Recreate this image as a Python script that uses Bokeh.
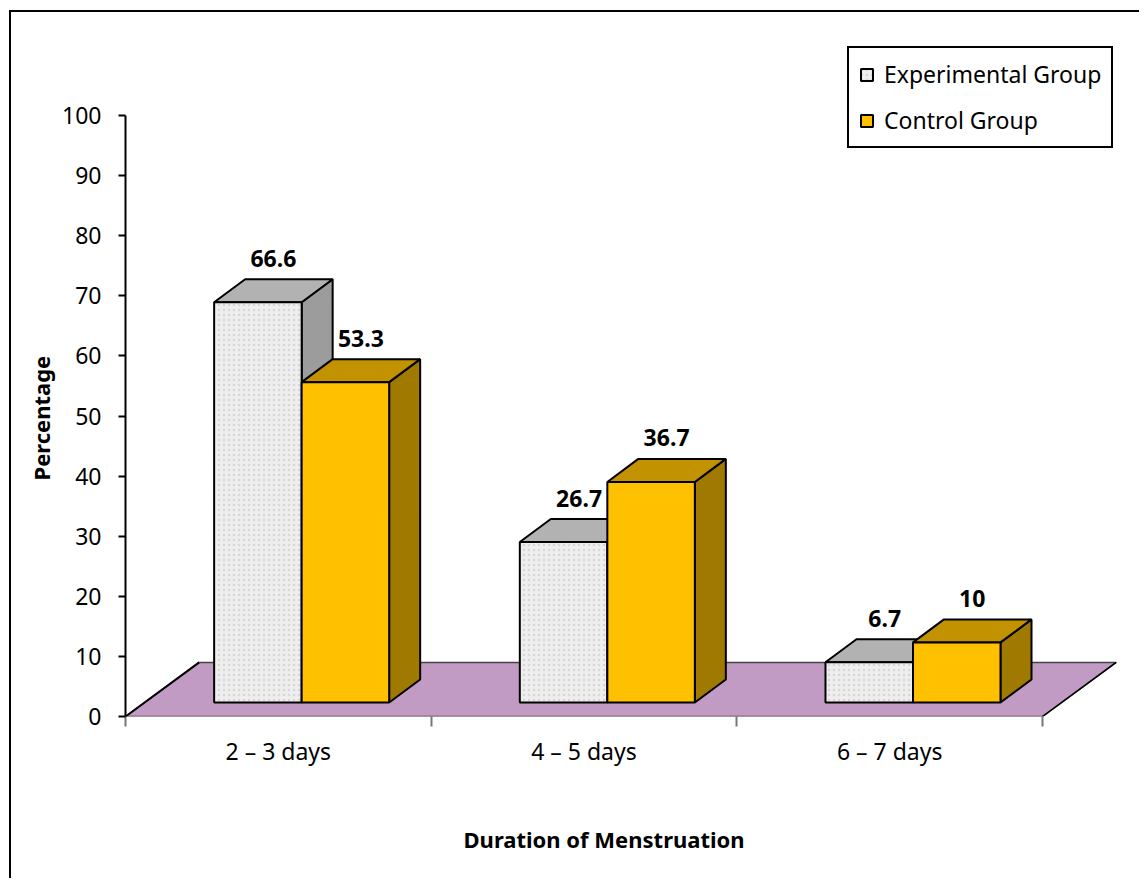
from bokeh.plotting import figure
from bokeh.models import Range1d, FixedTicker, Legend, LegendItem, Title, ColumnDataSource
from bokeh.embed import file_html
from bokeh.resources import INLINE
from bokeh.core.properties import value

# ---------------- data ----------------
categories = ["2 – 3 days", "4 – 5 days", "6 – 7 days"]
experimental = [66.6, 26.7, 6.7]
control = [53.3, 36.7, 10.0]
y_ticks = [0, 10, 20, 30, 40, 50, 60, 70, 80, 90, 100]
series_names = ["Experimental Group", "Control Group"]

# ---------------- geometry (data units) ----------------
CAT = 2.0                      # width of one category on the x scale
X_END = CAT * 992 / 305.67     # floor reaches beyond the last category
Y_TOP = 676 / 6.01             # headroom above 100 for the legend
BASE = 2.33                    # bars stand slightly behind the floor front edge
BAR_W = 0.2863 * CAT
EXP_OFF = 0.290 * CAT
DX = 0.1014 * CAT              # bar depth (x)
DY = 3.83                      # bar depth (y)
FLOOR_DX = 0.241 * CAT
FLOOR_DY = 9.0
n = len(categories)

FONT = "Noto Sans"


def faces(vals, offset):
    left, right, top = [], [], []
    tx, ty, sx, sy = [], [], [], []
    lx, ly = [], []
    for i, v in enumerate(vals):
        x0 = i * CAT + offset
        x1 = x0 + BAR_W
        t = BASE + v
        left.append(x0); right.append(x1); top.append(t)
        tx.append([x0, x1, x1 + DX, x0 + DX])
        ty.append([t, t, t + DY, t + DY])
        sx.append([x1, x1, x1 + DX, x1 + DX])
        sy.append([BASE, t, t + DY, BASE + DY])
        lx.append((x0 + x1) / 2 + DX / 2)
        ly.append(t + DY)
    return dict(left=left, right=right, top=top, bottom=[BASE] * len(vals)), \
        dict(xs=tx, ys=ty), dict(xs=sx, ys=sy), dict(x=lx, y=ly, t=[f"{v:g}" for v in vals])


p = figure(width=1130, height=868, x_range=Range1d(0, X_END), y_range=Range1d(0, Y_TOP),
           output_backend="svg", toolbar_location=None,
           min_border_left=114, min_border_right=24, min_border_top=28, min_border_bottom=164)
p.margin = (10, 0, 0, 9)
p.styles = {"border-left": "2px solid black", "border-top": "2px solid black"}
p.outline_line_color = None
p.xgrid.visible = False
p.ygrid.visible = False
p.background_fill_color = "white"
p.border_fill_color = "white"

# floor
p.patch([0, n * CAT, n * CAT + FLOOR_DX, FLOOR_DX], [0, 0, FLOOR_DY, FLOOR_DY],
        fill_color="#C19BC3", line_color="#444444", line_width=1.5)
p.line([0, FLOOR_DX], [0, FLOOR_DY], line_color="black", line_width=2)
p.line([n * CAT, n * CAT + FLOOR_DX], [0, FLOOR_DY], line_color="black", line_width=1.5)

# bars
styles = [
    (experimental, EXP_OFF, "#EEEEEE", "#B2B2B2", "#9C9C9C"),
    (control, EXP_OFF + BAR_W, "#FFC000", "#C29200", "#A07A00"),
]
fronts = []
labels = []
for vals, off, cf, ct, cs in styles:
    fr, tp, sd, lb = faces(vals, off)
    p.patches("xs", "ys", source=ColumnDataSource(sd), fill_color=cs, line_color="black", line_width=2)
    p.patches("xs", "ys", source=ColumnDataSource(tp), fill_color=ct, line_color="black", line_width=2)
    if cf == "#EEEEEE":
        r = p.quad(left="left", right="right", bottom="bottom", top="top", source=ColumnDataSource(fr),
                   fill_color=cf, line_color="black", line_width=2,
                   hatch_pattern="dot", hatch_color="#D6D6D6", hatch_scale=5, hatch_weight=1.2)
    else:
        r = p.quad(left="left", right="right", bottom="bottom", top="top", source=ColumnDataSource(fr),
                   fill_color=cf, line_color="black", line_width=2)
    fronts.append(r)
    labels.append(lb)

for lb in labels:
    p.text("x", "y", text="t", source=ColumnDataSource(lb), text_align="center",
           text_baseline="middle", y_offset=-21, text_font=value(FONT), text_font_style="bold",
           text_font_size="23px", text_color="black")

# y axis
ya = p.yaxis[0]
ya.ticker = FixedTicker(ticks=y_ticks)
ya.bounds = (0, 100)
ya.axis_line_width = 2
ya.axis_line_color = "black"
ya.major_tick_out = 7
ya.major_tick_in = 0
ya.major_tick_line_width = 2
ya.minor_tick_out = 0
ya.minor_tick_in = 0
ya.major_label_standoff = 17
ya.major_label_text_font = FONT
ya.major_label_text_font_size = "23px"
ya.major_label_text_color = "black"

ytitle = Title(text="Percentage", align="left", offset=236, standoff=8,
               text_font=FONT, text_font_size="22px", text_font_style="bold", text_color="black")
p.add_layout(ytitle, "left")

# x axis
xa = p.xaxis[0]
xa.ticker = FixedTicker(ticks=[int(CAT * i + CAT / 2) for i in range(n)],
                        minor_ticks=[int(CAT * i) for i in range(n + 1)])
xa.major_label_overrides = {int(CAT * i + CAT / 2): c for i, c in enumerate(categories)}
xa.axis_line_color = None
xa.major_tick_out = 0
xa.major_tick_in = 0
xa.minor_tick_out = 10
xa.minor_tick_in = 0
xa.minor_tick_line_color = "#777777"
xa.minor_tick_line_width = 2
xa.major_label_standoff = 8
xa.major_label_text_font = FONT
xa.major_label_text_font_size = "23px"
xa.major_label_text_color = "black"

xtitle = Title(text="Duration of Menstruation", align="left", offset=338, standoff=10,
               padding=(0, 0, 47, 0),
               text_font=FONT, text_font_size="22px", text_font_style="bold", text_color="black")
p.add_layout(xtitle, "below")

legend = Legend(items=[LegendItem(label=series_names[0], renderers=[fronts[0]]),
                       LegendItem(label=series_names[1], renderers=[fronts[1]])],
                location=(722, 568), orientation="vertical",
                glyph_width=15, glyph_height=15, label_standoff=10,
                label_text_font=FONT, label_text_font_size="23px", label_text_color="black",
                spacing=14, padding=10, margin=0,
                border_line_color="black", border_line_width=2, border_line_alpha=1.0,
                background_fill_color="white", background_fill_alpha=1.0)
p.add_layout(legend, "center")

open("out.html", "w").write(file_html(p, INLINE))
